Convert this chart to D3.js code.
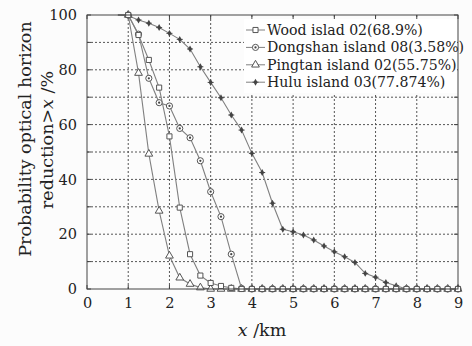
<!DOCTYPE html>
<html><head><meta charset="utf-8">
<script src="https://cdn.jsdelivr.net/npm/d3@7"></script>
<style>
html,body{margin:0;padding:0;background:#fcfcfc;}
svg{display:block;}
text{font-family:"DejaVu Serif",serif;fill:#222;}
</style></head>
<body>
<svg id="chart" width="472" height="346"></svg>
<script>
const xs = [0.75,1,1.25,1.5,1.75,2,2.25,2.5,2.75,3,3.25,3.5,3.75,4,4.25,4.5,4.75,5,5.25,5.5,5.75,6,6.25,6.5,6.75,7,7.25,7.5,7.75,8,8.25,8.5,8.75,9];
const wood     = [100,100,92.7,83.6,73.5,55.7,29.7,12.7,4.9,2.2,1.1,0.4,0,0,0,0,0,0,0,0,0,0,0,0,0,0,0,0,0,0,0,0,0,0];
const dongshan = [100,100,93,76.9,68,66.8,58.6,55.2,46.8,35.5,26.4,12.7,0.2,0,0,0,0,0,0,0,0,0,0,0,0,0,0,0,0,0,0,0,0,0];
const pingtan  = [100,100,78.8,49.3,28.5,12.1,4.1,1.8,0.5,0,0,0,0,0,0,0,0,0,0,0,0,0,0,0,0,0,0,0,0,0,0,0,0,0];
const hulu     = [100,99.7,98.2,97,95.4,93.3,91.1,87.6,81.1,75.4,69.8,63.5,58,49.5,42.5,31.3,21.8,20.9,19.7,17.9,15.7,13.6,11.8,9.7,5.7,4.3,2.4,1.2,0,0,0,0,0,0];
const seriesNames = ["Wood islad 02(68.9%)","Dongshan island 08(3.58%)","Pingtan island 02(55.75%)","Hulu island 03(77.874%)"];
const seriesKeys = ["square","circle","triangle","star"];
const xTicks = [0,1,2,3,4,5,6,7,8,9];
const yTicks = [0,20,40,60,80,100];
const yGrid = [10,20,30,40,50,60,70,80,90];

const svg = d3.select("#chart");
const L=87, R=458, T=15, B=289;
const x = d3.scaleLinear().domain([0,9]).range([L,R]);
const y = d3.scaleLinear().domain([0,100]).range([B,T]);
const FONT = "DejaVu Serif";

// grid
const g = svg.append("g");
g.selectAll(".vg").data(xTicks.slice(1,-1)).enter().append("line")
  .attr("x1",d=>x(d)).attr("x2",d=>x(d)).attr("y1",T).attr("y2",B)
  .attr("stroke","#555").attr("stroke-width",1).attr("stroke-dasharray","2,2");
g.selectAll(".hg").data(yGrid).enter().append("line")
  .attr("x1",L).attr("x2",R).attr("y1",d=>y(d)).attr("y2",d=>y(d))
  .attr("stroke","#555").attr("stroke-width",1).attr("stroke-dasharray","2,2");

// axes
const yAxis = d3.axisLeft(y).tickValues(yTicks).tickSize(0).tickPadding(10);
const ya = svg.append("g").attr("transform",`translate(${L},0)`).call(yAxis);
ya.select(".domain").remove();
ya.selectAll("text").attr("font-size",14.5).attr("font-family",FONT).attr("fill","#222");
const xAxis = d3.axisBottom(x).tickValues(xTicks).tickSize(0).tickPadding(9);
const xa = svg.append("g").attr("transform",`translate(0,${B})`).call(xAxis);
xa.select(".domain").remove();
xa.selectAll("text").attr("font-size",14.5).attr("font-family",FONT).attr("fill","#222");

// minor ticks inward
svg.selectAll(".lt").data(d3.range(0,101,10)).enter().append("line")
  .attr("x1",L).attr("x2",L+4).attr("y1",d=>y(d)).attr("y2",d=>y(d)).attr("stroke","#444");
svg.selectAll(".rt").data(d3.range(0,101,10)).enter().append("line")
  .attr("x1",R-4).attr("x2",R).attr("y1",d=>y(d)).attr("y2",d=>y(d)).attr("stroke","#444");
svg.selectAll(".bt").data(xTicks).enter().append("line")
  .attr("x1",d=>x(d)).attr("x2",d=>x(d)).attr("y1",B).attr("y2",B-4).attr("stroke","#444");
svg.selectAll(".tt").data(xTicks).enter().append("line")
  .attr("x1",d=>x(d)).attr("x2",d=>x(d)).attr("y1",T).attr("y2",T+4).attr("stroke","#444");

const series = [
  {name:seriesNames[3], key:seriesKeys[3], vals:hulu},
  {name:seriesNames[2], key:seriesKeys[2], vals:pingtan},
  {name:seriesNames[1], key:seriesKeys[1], vals:dongshan},
  {name:seriesNames[0], key:seriesKeys[0], vals:wood}
];

const line = d3.line().x(d=>x(d[0])).y(d=>y(d[1]));
function drawMarker(sel, key){
  if(key==="square"){
    sel.append("path").attr("d",d3.symbol().type(d3.symbolSquare).size(26)())
      .attr("fill","#fff").attr("stroke","#555").attr("stroke-width",1);
  } else if(key==="circle"){
    sel.append("path").attr("d",d3.symbol().type(d3.symbolCircle).size(30)())
      .attr("fill","#fff").attr("stroke","#555").attr("stroke-width",1);
    sel.append("path").attr("d",d3.symbol().type(d3.symbolCircle).size(4)()).attr("fill","#444");
  } else if(key==="triangle"){
    sel.append("path").attr("d",d3.symbol().type(d3.symbolTriangle).size(26)())
      .attr("fill","#fff").attr("stroke","#555").attr("stroke-width",1);
  } else {
    sel.append("path").attr("d",d3.symbol().type(d3.symbolDiamond).size(14)())
      .attr("fill","#444");
    sel.append("line").attr("x1",-3).attr("x2",3).attr("y1",0).attr("y2",0).attr("stroke","#444");
  }
}

series.forEach(s=>{
  const pts = xs.map((xv,i)=>[xv,s.vals[i]]);
  svg.append("path").datum(pts).attr("d",line)
    .attr("fill","none").attr("stroke","#808080").attr("stroke-width",1.1);
  const mg = svg.append("g").selectAll("g").data(pts.filter(p=>p[0]>=1)).enter().append("g")
    .attr("transform",d=>`translate(${x(d[0])},${y(d[1])})`);
  drawMarker(mg, s.key);
});

// frame
svg.append("rect").attr("x",L).attr("y",T).attr("width",R-L).attr("height",B-T)
  .attr("fill","none").attr("stroke","#444").attr("stroke-width",1);

// legend
const lg = svg.append("g");
lg.append("rect").attr("x",244).attr("y",19).attr("width",R-244-1).attr("height",74).attr("fill","#fff");
const legendOrder = [series[3],series[2],series[1],series[0]];
legendOrder.forEach((s,i)=>{
  const cy = 30 + i*17.4;
  lg.append("line").attr("x1",246).attr("x2",265).attr("y1",cy).attr("y2",cy).attr("stroke","#808080");
  const m = lg.append("g").attr("transform",`translate(255.5,${cy})`);
  drawMarker(m, s.key);
  lg.append("text").attr("x",267).attr("y",cy+5).attr("font-size",14.1).text(s.name);
});

// axis titles
svg.append("text").attr("transform","translate(31,139) rotate(-90)")
  .attr("text-anchor","middle").attr("font-size",17.5).text("Probability optical horizon");
const yt2 = svg.append("text").attr("transform","translate(53,140) rotate(-90)")
  .attr("text-anchor","middle").attr("font-size",17.5);
yt2.append("tspan").text("reduction>");
yt2.append("tspan").attr("font-style","italic").text("x");
yt2.append("tspan").text(" /%");
const xt = svg.append("text").attr("x",262).attr("y",336).attr("text-anchor","middle").attr("font-size",17.5);
xt.append("tspan").attr("font-style","italic").text("x");
xt.append("tspan").text(" /km");
</script>
</body></html>
